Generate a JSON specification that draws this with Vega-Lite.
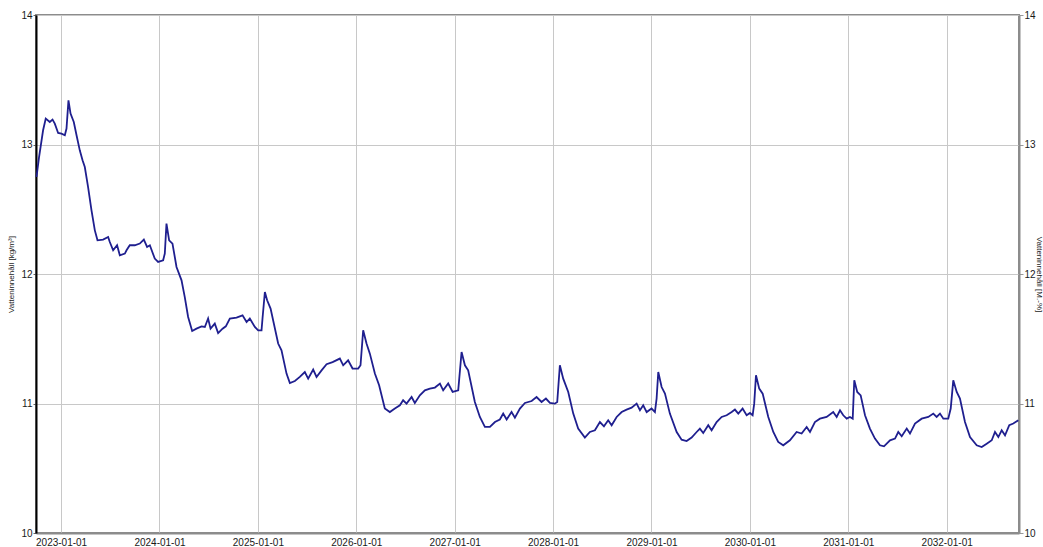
{
  "$schema": "https://vega.github.io/schema/vega-lite/v6.json",
  "width": 983,
  "height": 518,
  "autosize": "none",
  "padding": {"left": 36, "top": 15, "right": 24, "bottom": 14},
  "background": "white",
  "data": {"values": [
    {"t": 2022.750, "v": 12.749}, {"t": 2022.776, "v": 12.903}, {"t": 2022.817, "v": 13.110}, {"t": 2022.844, "v": 13.200},
    {"t": 2022.885, "v": 13.174}, {"t": 2022.913, "v": 13.192}, {"t": 2022.936, "v": 13.161}, {"t": 2022.970, "v": 13.089},
    {"t": 2023.004, "v": 13.084}, {"t": 2023.038, "v": 13.071}, {"t": 2023.055, "v": 13.123}, {"t": 2023.075, "v": 13.341},
    {"t": 2023.096, "v": 13.239}, {"t": 2023.129, "v": 13.174}, {"t": 2023.157, "v": 13.071}, {"t": 2023.190, "v": 12.955},
    {"t": 2023.218, "v": 12.878}, {"t": 2023.241, "v": 12.826}, {"t": 2023.274, "v": 12.672}, {"t": 2023.309, "v": 12.492},
    {"t": 2023.343, "v": 12.337}, {"t": 2023.370, "v": 12.260}, {"t": 2023.427, "v": 12.266}, {"t": 2023.478, "v": 12.286},
    {"t": 2023.495, "v": 12.247}, {"t": 2023.529, "v": 12.183}, {"t": 2023.569, "v": 12.222}, {"t": 2023.597, "v": 12.144},
    {"t": 2023.648, "v": 12.158}, {"t": 2023.665, "v": 12.183}, {"t": 2023.698, "v": 12.222}, {"t": 2023.749, "v": 12.222},
    {"t": 2023.800, "v": 12.235}, {"t": 2023.841, "v": 12.266}, {"t": 2023.874, "v": 12.209}, {"t": 2023.902, "v": 12.222},
    {"t": 2023.952, "v": 12.119}, {"t": 2023.986, "v": 12.093}, {"t": 2024.037, "v": 12.106}, {"t": 2024.054, "v": 12.158},
    {"t": 2024.071, "v": 12.389}, {"t": 2024.098, "v": 12.260}, {"t": 2024.132, "v": 12.235}, {"t": 2024.173, "v": 12.054},
    {"t": 2024.224, "v": 11.951}, {"t": 2024.257, "v": 11.822}, {"t": 2024.291, "v": 11.668}, {"t": 2024.332, "v": 11.560},
    {"t": 2024.376, "v": 11.578}, {"t": 2024.427, "v": 11.596}, {"t": 2024.461, "v": 11.591}, {"t": 2024.494, "v": 11.656},
    {"t": 2024.519, "v": 11.578}, {"t": 2024.562, "v": 11.617}, {"t": 2024.596, "v": 11.544}, {"t": 2024.641, "v": 11.578},
    {"t": 2024.674, "v": 11.596}, {"t": 2024.715, "v": 11.656}, {"t": 2024.783, "v": 11.663}, {"t": 2024.844, "v": 11.681},
    {"t": 2024.885, "v": 11.629}, {"t": 2024.918, "v": 11.656}, {"t": 2024.969, "v": 11.591}, {"t": 2025.003, "v": 11.565},
    {"t": 2025.037, "v": 11.565}, {"t": 2025.047, "v": 11.656}, {"t": 2025.071, "v": 11.861}, {"t": 2025.094, "v": 11.797},
    {"t": 2025.129, "v": 11.733}, {"t": 2025.206, "v": 11.463}, {"t": 2025.240, "v": 11.411}, {"t": 2025.291, "v": 11.231},
    {"t": 2025.325, "v": 11.158}, {"t": 2025.376, "v": 11.174}, {"t": 2025.426, "v": 11.205}, {"t": 2025.477, "v": 11.243},
    {"t": 2025.511, "v": 11.192}, {"t": 2025.562, "v": 11.262}, {"t": 2025.596, "v": 11.205}, {"t": 2025.647, "v": 11.256},
    {"t": 2025.698, "v": 11.303}, {"t": 2025.759, "v": 11.320}, {"t": 2025.833, "v": 11.347}, {"t": 2025.867, "v": 11.295},
    {"t": 2025.917, "v": 11.334}, {"t": 2025.962, "v": 11.270}, {"t": 2026.019, "v": 11.270}, {"t": 2026.043, "v": 11.295},
    {"t": 2026.070, "v": 11.565}, {"t": 2026.104, "v": 11.463}, {"t": 2026.138, "v": 11.385}, {"t": 2026.189, "v": 11.231},
    {"t": 2026.232, "v": 11.141}, {"t": 2026.290, "v": 10.961}, {"t": 2026.341, "v": 10.934}, {"t": 2026.392, "v": 10.961},
    {"t": 2026.443, "v": 10.986}, {"t": 2026.476, "v": 11.025}, {"t": 2026.511, "v": 10.999}, {"t": 2026.562, "v": 11.050},
    {"t": 2026.595, "v": 11.004}, {"t": 2026.646, "v": 11.063}, {"t": 2026.697, "v": 11.102}, {"t": 2026.748, "v": 11.115},
    {"t": 2026.799, "v": 11.123}, {"t": 2026.850, "v": 11.154}, {"t": 2026.883, "v": 11.102}, {"t": 2026.934, "v": 11.154},
    {"t": 2026.979, "v": 11.089}, {"t": 2027.036, "v": 11.102}, {"t": 2027.070, "v": 11.398}, {"t": 2027.104, "v": 11.295},
    {"t": 2027.137, "v": 11.256}, {"t": 2027.205, "v": 11.012}, {"t": 2027.256, "v": 10.896}, {"t": 2027.307, "v": 10.819},
    {"t": 2027.358, "v": 10.819}, {"t": 2027.409, "v": 10.857}, {"t": 2027.459, "v": 10.876}, {"t": 2027.493, "v": 10.922},
    {"t": 2027.528, "v": 10.876}, {"t": 2027.578, "v": 10.934}, {"t": 2027.612, "v": 10.891}, {"t": 2027.663, "v": 10.961},
    {"t": 2027.714, "v": 11.004}, {"t": 2027.782, "v": 11.019}, {"t": 2027.832, "v": 11.050}, {"t": 2027.883, "v": 11.012},
    {"t": 2027.927, "v": 11.038}, {"t": 2027.968, "v": 11.004}, {"t": 2028.018, "v": 10.999}, {"t": 2028.042, "v": 11.012},
    {"t": 2028.069, "v": 11.295}, {"t": 2028.103, "v": 11.192}, {"t": 2028.154, "v": 11.089}, {"t": 2028.205, "v": 10.922},
    {"t": 2028.255, "v": 10.806}, {"t": 2028.323, "v": 10.737}, {"t": 2028.374, "v": 10.780}, {"t": 2028.425, "v": 10.793},
    {"t": 2028.476, "v": 10.857}, {"t": 2028.517, "v": 10.824}, {"t": 2028.560, "v": 10.870}, {"t": 2028.595, "v": 10.832},
    {"t": 2028.646, "v": 10.896}, {"t": 2028.697, "v": 10.934}, {"t": 2028.747, "v": 10.953}, {"t": 2028.798, "v": 10.968},
    {"t": 2028.849, "v": 10.999}, {"t": 2028.883, "v": 10.948}, {"t": 2028.916, "v": 10.986}, {"t": 2028.951, "v": 10.934},
    {"t": 2029.001, "v": 10.961}, {"t": 2029.035, "v": 10.934}, {"t": 2029.052, "v": 11.038}, {"t": 2029.069, "v": 11.243},
    {"t": 2029.103, "v": 11.127}, {"t": 2029.137, "v": 11.076}, {"t": 2029.187, "v": 10.922}, {"t": 2029.256, "v": 10.780},
    {"t": 2029.306, "v": 10.721}, {"t": 2029.357, "v": 10.710}, {"t": 2029.408, "v": 10.737}, {"t": 2029.459, "v": 10.780},
    {"t": 2029.492, "v": 10.806}, {"t": 2029.526, "v": 10.772}, {"t": 2029.577, "v": 10.832}, {"t": 2029.611, "v": 10.793},
    {"t": 2029.662, "v": 10.857}, {"t": 2029.713, "v": 10.896}, {"t": 2029.764, "v": 10.909}, {"t": 2029.815, "v": 10.934},
    {"t": 2029.848, "v": 10.953}, {"t": 2029.882, "v": 10.922}, {"t": 2029.926, "v": 10.961}, {"t": 2029.967, "v": 10.909},
    {"t": 2030.001, "v": 10.927}, {"t": 2030.028, "v": 10.909}, {"t": 2030.044, "v": 10.999}, {"t": 2030.062, "v": 11.218},
    {"t": 2030.095, "v": 11.115}, {"t": 2030.130, "v": 11.076}, {"t": 2030.187, "v": 10.896}, {"t": 2030.238, "v": 10.780},
    {"t": 2030.288, "v": 10.703}, {"t": 2030.339, "v": 10.677}, {"t": 2030.407, "v": 10.716}, {"t": 2030.475, "v": 10.780},
    {"t": 2030.526, "v": 10.768}, {"t": 2030.577, "v": 10.819}, {"t": 2030.611, "v": 10.780}, {"t": 2030.661, "v": 10.857},
    {"t": 2030.712, "v": 10.883}, {"t": 2030.780, "v": 10.896}, {"t": 2030.847, "v": 10.934}, {"t": 2030.882, "v": 10.896},
    {"t": 2030.916, "v": 10.948}, {"t": 2030.949, "v": 10.909}, {"t": 2030.984, "v": 10.883}, {"t": 2031.017, "v": 10.896},
    {"t": 2031.045, "v": 10.883}, {"t": 2031.061, "v": 11.179}, {"t": 2031.091, "v": 11.089}, {"t": 2031.126, "v": 11.063},
    {"t": 2031.170, "v": 10.909}, {"t": 2031.220, "v": 10.806}, {"t": 2031.271, "v": 10.729}, {"t": 2031.322, "v": 10.677},
    {"t": 2031.363, "v": 10.669}, {"t": 2031.424, "v": 10.716}, {"t": 2031.475, "v": 10.729}, {"t": 2031.508, "v": 10.780},
    {"t": 2031.543, "v": 10.747}, {"t": 2031.594, "v": 10.806}, {"t": 2031.627, "v": 10.768}, {"t": 2031.678, "v": 10.845},
    {"t": 2031.746, "v": 10.883}, {"t": 2031.813, "v": 10.896}, {"t": 2031.864, "v": 10.922}, {"t": 2031.898, "v": 10.896},
    {"t": 2031.932, "v": 10.922}, {"t": 2031.966, "v": 10.883}, {"t": 2032.016, "v": 10.883}, {"t": 2032.041, "v": 10.961},
    {"t": 2032.067, "v": 11.179}, {"t": 2032.102, "v": 11.089}, {"t": 2032.135, "v": 11.038}, {"t": 2032.186, "v": 10.857},
    {"t": 2032.237, "v": 10.741}, {"t": 2032.305, "v": 10.677}, {"t": 2032.356, "v": 10.664}, {"t": 2032.407, "v": 10.690},
    {"t": 2032.458, "v": 10.716}, {"t": 2032.491, "v": 10.780}, {"t": 2032.525, "v": 10.741}, {"t": 2032.559, "v": 10.793},
    {"t": 2032.593, "v": 10.754}, {"t": 2032.636, "v": 10.832}, {"t": 2032.677, "v": 10.845}, {"t": 2032.728, "v": 10.870}
  ]},
  "encoding": {
    "x": {
      "field": "t",
      "type": "quantitative",
      "scale": {"domain": [2022.745, 2032.735], "nice": false, "zero": false},
      "axis": {
        "values": [2023, 2024, 2025, 2026, 2027, 2028, 2029, 2030, 2031, 2032],
        "labelExpr": "datum.value + '-01-01'",
        "title": null,
        "grid": true,
        "gridColor": "#c8c8c8",
        "gridWidth": 1,
        "tickSize": 0,
        "labelPadding": 4,
        "labelFlush": false,
        "domainColor": "#8c8c8c",
        "domainWidth": 2
      }
    }
  },
  "layer": [
    {
      "mark": {"type": "line", "color": "#1f1f8f", "strokeWidth": 1.8},
      "encoding": {
        "y": {
          "field": "v",
          "type": "quantitative",
          "scale": {"domain": [10, 14], "nice": false, "zero": false},
          "axis": {
            "values": [10, 11, 12, 13, 14],
            "format": "d",
            "title": "Vatteninnehåll [kg/m³]",
            "grid": true,
            "gridColor": "#c8c8c8",
            "gridWidth": 1,
            "domainColor": "#000000",
            "domainWidth": 2,
            "tickSize": 3,
            "tickColor": "#666666",
            "labelPadding": 1,
            "labelFlush": false,
            "titlePadding": 5
          }
        }
      }
    },
    {
      "mark": {"type": "line", "opacity": 0},
      "encoding": {
        "y": {
          "field": "v",
          "type": "quantitative",
          "scale": {"domain": [10, 14], "nice": false, "zero": false},
          "axis": {
            "orient": "right",
            "values": [10, 11, 12, 13, 14],
            "format": "d",
            "title": "Vatteninnehåll [M.-%]",
            "grid": false,
            "domainColor": "#8c8c8c",
            "domainWidth": 2,
            "tickSize": 4,
            "tickColor": "#999999",
            "labelPadding": 1,
            "labelFlush": false,
            "titleX": 19,
            "titleY": 259,
            "titleAngle": 90,
            "titleAlign": "center",
            "titleBaseline": "middle"
          }
        }
      }
    }
  ],
  "resolve": {"scale": {"y": "independent"}},
  "config": {
    "view": {"stroke": "#8c8c8c", "strokeWidth": 2},
    "axis": {
      "labelFont": "Liberation Sans",
      "labelFontSize": 10,
      "labelColor": "#1a1a1a",
      "titleFont": "Liberation Sans",
      "titleFontSize": 8,
      "titleFontWeight": "normal",
      "titleColor": "#1a1a1a"
    }
  }
}
